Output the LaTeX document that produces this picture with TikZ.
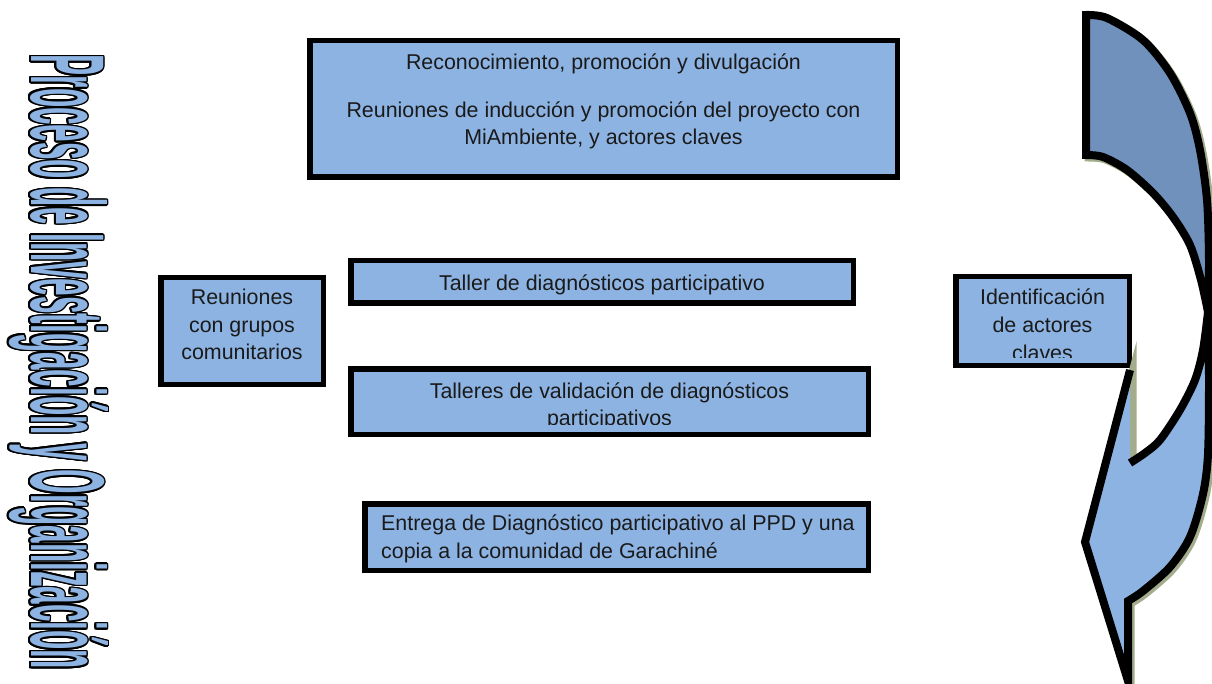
\documentclass[tikz,border=0pt]{standalone}
\usepackage{fontspec}
\setmainfont{Liberation Sans}
\newfontfamily\wordart[FakeStretch=0.3]{Liberation Sans}
\usepackage{contour}
\contourlength{1.6pt}
\usetikzlibrary{calc}

\definecolor{cajaazul}{RGB}{141,179,226}
\definecolor{flechaoscura}{RGB}{111,145,188}
\definecolor{sombra}{RGB}{163,173,140}
\definecolor{texto}{RGB}{26,26,26}

\tikzset{
    caja/.style={draw=black, fill=cajaazul, line width=5.5pt, outer sep=0pt, inner sep=0pt},
    txt/.style={font=\fontsize{21.4}{27.5}\selectfont, text=texto, align=center, inner sep=0pt},
    flecha/.style={draw=black, line width=8pt, line join=miter},
}

% contornos de la flecha curva
\newcommand{\partetrasera}{(1086,15) -- (1086,155)
    -- plot[smooth] coordinates {(1086,155) (1103,157) (1127,170) (1153,193) (1173,217) (1190,245) (1201,280) (1208,312)}
    -- plot[smooth] coordinates {(1208,312) (1209,260) (1207,200) (1200,150) (1190,113) (1170,73) (1143,40) (1107,18) (1086,15)}
    -- cycle}
\newcommand{\partefrontal}{(1130,463)
    -- plot[smooth] coordinates {(1130,463) (1145,453) (1160,440) (1180,410) (1195,380) (1203,350) (1208,312)}
    -- plot[smooth] coordinates {(1208,312) (1209,380) (1208,454) (1203,494) (1190,537) (1170,567) (1143,591) (1128,601)}
    -- (1128,681) -- (1085,542) -- (1130,370)}

\begin{document}
\begin{tikzpicture}[x=1pt, y=-1pt]
    \useasboundingbox (0,0) rectangle (1212,684);

    % titulo vertical
    \node[rotate=-90, anchor=base, inner sep=0pt, text=cajaazul,
          font=\wordart\bfseries\fontsize{105}{105}\selectfont] (titulo) at (31,362)
        {\contour{black}{Proceso de Investigación y Organización}};

    % cajas
    \node[caja, minimum width=587.5pt, minimum height=136.5pt] (promo) at (603.5,109) {};
    \node[caja, minimum width=162.5pt, minimum height=106.5pt] (grupos) at (242,331) {};
    \node[caja, minimum width=502.5pt, minimum height=42.5pt] (taller) at (602,282) {};
    \node[caja, minimum width=517.5pt, minimum height=65.5pt] (valid) at (609.5,401.5) {};
    \node[caja, minimum width=503.5pt, minimum height=66.5pt] (entrega) at (616.5,537) {};
    \node[caja, minimum width=173.5pt, minimum height=88.5pt] (ident) at (1042.5,321) {};

    % textos (anchor=base toma la ultima linea)
    \node[txt, anchor=base] (promo-t) at (603.5,145)
        {Reconocimiento, promoción y divulgación\\[20pt]Reuniones de inducción y promoción del proyecto con\\MiAmbiente, y actores claves};
    \node[txt, anchor=base] (grupos-t) at (242,359.5) {Reuniones\\con grupos\\comunitarios};
    \node[txt, anchor=base] (taller-t) at (602,290.5) {Taller de diagnósticos participativo};
    \begin{scope}
        \clip (351,369) rectangle (868,424);
        \node[txt, anchor=base] (valid-t) at (609.5,425.5) {Talleres de validación de diagnósticos\\participativos};
    \end{scope}
    \node[txt, align=left, anchor=base west] (entrega-t) at (381,558)
        {Entrega de Diagnóstico participativo al PPD y una\\copia a la comunidad de Garachiné};
    \begin{scope}
        \clip (956,277) rectangle (1129,357);
        \node[txt, anchor=base] (ident-t) at (1042.5,360) {Identificación\\de actores\\claves};
    \end{scope}

    % flecha curva
    \begin{scope}[shift={(2.5,2.5)}]
        \filldraw[sombra, line width=8pt, line join=miter] \partetrasera;
        \filldraw[sombra, line width=8pt, line join=miter] \partefrontal -- cycle;
    \end{scope}
    \filldraw[flecha, fill=flechaoscura] \partetrasera;
    \fill[cajaazul] \partefrontal -- cycle;
    \draw[flecha] \partefrontal;
\end{tikzpicture}
\end{document}
